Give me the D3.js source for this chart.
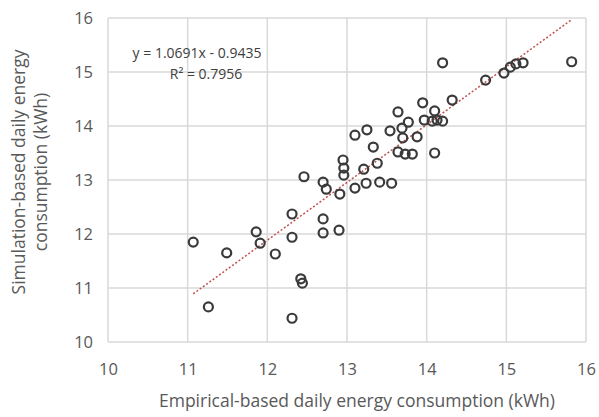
<!DOCTYPE html>
<html><head><meta charset="utf-8">
<script src="https://cdn.jsdelivr.net/npm/d3@7"></script>
<style>body{margin:0;background:#fff}svg{display:block}text{font-family:"Open Sans","Liberation Sans",sans-serif}</style>
</head><body>
<svg id="c" width="599" height="417"></svg>
<script>
const xValues = [11.07,11.26,11.49,11.86,11.91,12.10,12.31,12.31,12.42,12.44,12.31,12.46,12.70,12.74,12.70,12.70,12.90,12.91,12.95,12.96,12.96,13.10,13.21,13.24,13.10,13.25,13.33,13.38,13.41,13.56,13.54,13.64,13.69,13.77,13.70,13.88,13.64,13.73,13.82,13.95,13.97,14.07,14.13,14.20,14.10,14.10,14.20,14.32,14.74,14.97,15.05,15.12,15.21,15.82];
const yValues = [11.85,10.65,11.65,12.04,11.83,11.63,12.37,11.94,11.17,11.09,10.44,13.06,12.96,12.83,12.28,12.02,12.07,12.74,13.37,13.22,13.09,12.85,13.20,12.94,13.83,13.93,13.61,13.31,12.96,12.94,13.91,14.26,13.96,14.07,13.78,13.80,13.52,13.48,13.48,14.43,14.11,14.09,14.11,14.09,14.28,13.50,15.17,14.48,14.85,14.98,15.09,15.15,15.17,15.19];
const xTicks = [10,11,12,13,14,15,16];
const yTicks = [10,11,12,13,14,15,16];
const slope = 1.0691, intercept = -0.9435;
const eqLabel = "y = 1.0691x - 0.9435";
const r2Label = "R² = 0.7956";
const xTitle = "Empirical-based daily energy consumption (kWh)";
const yTitle = ["Simulation-based daily energy", "consumption (kWh)"];

const svg = d3.select("#c");
const x = d3.scaleLinear().domain([10,16]).range([108,586]);
const y = d3.scaleLinear().domain([10,16]).range([342,18]);

const grid = svg.append("g");
grid.selectAll("line.v").data(xTicks).join("line")
  .attr("x1",d=>x(d)).attr("x2",d=>x(d)).attr("y1",y(16)).attr("y2",y(10))
  .attr("stroke","#d9d9d9").attr("stroke-width",1.5);
grid.selectAll("line.h").data(yTicks).join("line")
  .attr("y1",d=>y(d)).attr("y2",d=>y(d)).attr("x1",x(10)).attr("x2",x(16))
  .attr("stroke","#d9d9d9").attr("stroke-width",1.5);

const fmt = d3.format("d");
const xAxis = svg.append("g").attr("transform",`translate(0,${y(10)})`)
  .call(d3.axisBottom(x).tickValues(xTicks).tickFormat(fmt).tickSize(0).tickPadding(21));
xAxis.select(".domain").remove();
xAxis.selectAll("text").attr("fill","#595959").style("font-size","16.5px").style("font-family","'Open Sans',sans-serif");

const yAxis = svg.append("g").attr("transform",`translate(${x(10)},0)`)
  .call(d3.axisLeft(y).tickValues(yTicks).tickFormat(fmt).tickSize(0).tickPadding(15));
yAxis.select(".domain").remove();
yAxis.selectAll("text").attr("fill","#595959").style("font-size","16.5px").style("font-family","'Open Sans',sans-serif");

const xs = d3.extent(xValues);
svg.append("line")
  .attr("x1",x(xs[0])).attr("y1",y(slope*xs[0]+intercept))
  .attr("x2",x(xs[1])).attr("y2",y(slope*xs[1]+intercept))
  .attr("stroke","#c0504d").attr("stroke-width",1.5).attr("stroke-dasharray","2,2");

svg.append("g").selectAll("circle").data(xValues.map((v,i)=>[v,yValues[i]])).join("circle")
  .attr("cx",d=>x(d[0])).attr("cy",d=>y(d[1])).attr("r",4.5)
  .attr("fill","none").attr("stroke","#3a3a3a").attr("stroke-width",2.2);

svg.append("text").attr("x",197).attr("y",58).attr("text-anchor","middle")
  .attr("fill","#404040").style("font-size","14px").text(eqLabel);
svg.append("text").attr("x",206).attr("y",79).attr("text-anchor","middle")
  .attr("fill","#404040").style("font-size","14px").text(r2Label);

svg.append("text").attr("x",357).attr("y",407).attr("text-anchor","middle")
  .attr("fill","#595959").style("font-size","17.5px").text(xTitle);

yTitle.forEach((t,i)=>{
  svg.append("text").attr("transform",`translate(${25+i*22},172) rotate(-90)`)
    .attr("text-anchor","middle").attr("fill","#595959").style("font-size","17.5px").text(t);
});
</script>
</body></html>
